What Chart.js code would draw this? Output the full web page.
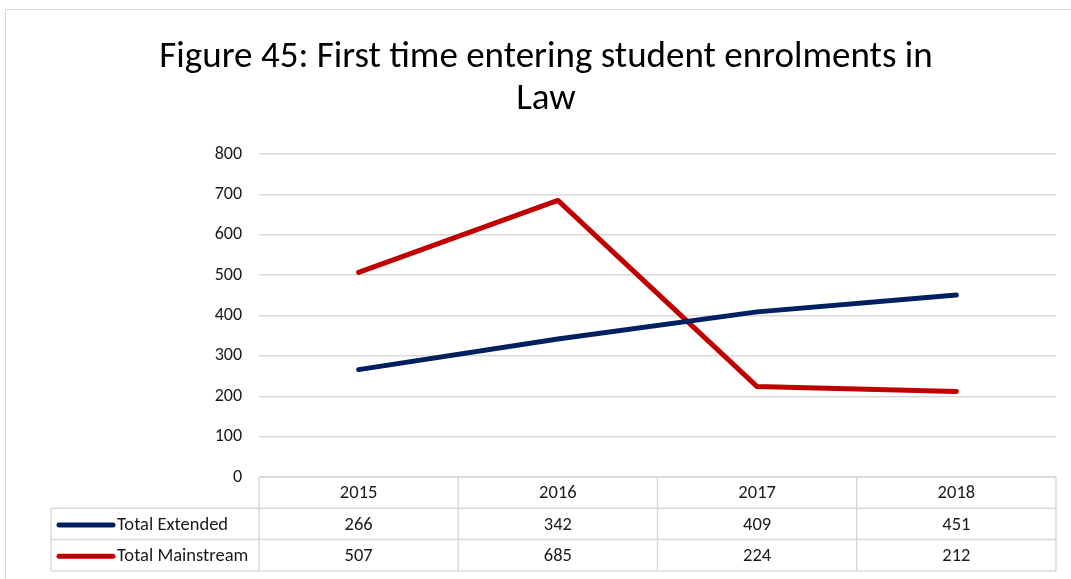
<!DOCTYPE html>
<html>
<head>
<meta charset="utf-8">
<script src="https://cdn.jsdelivr.net/npm/chart.js@4.4.1/dist/chart.umd.min.js"></script>
<style>
  html, body { margin: 0; padding: 0; background: #ffffff; }
  #wrap { position: relative; width: 1071px; height: 579px; }
  canvas { display: block; }
</style>
</head>
<body>
<div id="wrap"><canvas id="chart" width="1071" height="579"></canvas></div>
<script>
// Enrolment figures by year
const years = ['2015', '2016', '2017', '2018'];
const totalExtended = [266, 342, 409, 451];
const totalMainstream = [507, 685, 224, 212];
const seriesNames = ['Total Extended', 'Total Mainstream'];
const titleLines = ['Figure 45: First time entering student enrolments in', 'Law'];

const FONT = "Carlito, Calibri, Lato, 'Liberation Sans', sans-serif";
const GRID = '#d9d9d9';
const TEXT = '#1a1a1a';
const SMALL = 18.5;

// Title, outer frame and the data table beneath the plot
const tablePlugin = {
  id: 'dataTable',
  afterDraw(chart) {
    const ctx = chart.ctx;
    const x = chart.scales.x;
    const area = chart.chartArea;
    ctx.save();

    // outer frame (top and left edges)
    ctx.strokeStyle = '#d9d9d9';
    ctx.lineWidth = 1;
    ctx.beginPath();
    ctx.moveTo(5.5, 579);
    ctx.lineTo(5.5, 9.5);
    ctx.lineTo(1071, 9.5);
    ctx.stroke();

    // title
    ctx.fillStyle = '#000000';
    ctx.font = '37px ' + FONT;
    ctx.textAlign = 'center';
    ctx.textBaseline = 'middle';
    titleLines.forEach((t, i) => ctx.fillText(t, 546, 58 + i * 42));

    // table geometry derived from the category scale
    const n = years.length;
    const colW = (area.right - area.left) / n;
    const edges = [];
    for (let i = 0; i <= n; i++) edges.push(area.left + i * colW);
    const top = area.bottom;
    const rowH = 31.3;
    const legendLeft = 51;
    const rows = [top, top + rowH, top + 2 * rowH, top + 3 * rowH];

    ctx.strokeStyle = GRID;
    ctx.lineWidth = 1.5;
    ctx.beginPath();
    ctx.moveTo(edges[0], rows[0]); ctx.lineTo(edges[n], rows[0]);
    for (let r = 1; r <= 3; r++) {
      ctx.moveTo(legendLeft, rows[r]);
      ctx.lineTo(edges[n], rows[r]);
    }
    edges.forEach(e => { ctx.moveTo(e, rows[0]); ctx.lineTo(e, rows[3]); });
    ctx.moveTo(legendLeft, rows[1]); ctx.lineTo(legendLeft, rows[3]);
    ctx.stroke();

    ctx.font = SMALL + 'px ' + FONT;
    ctx.fillStyle = TEXT;
    ctx.textAlign = 'center';
    years.forEach((y, i) => ctx.fillText(y, x.getPixelForValue(i), (rows[0] + rows[1]) / 2 + 1));

    chart.data.datasets.forEach((ds, r) => {
      const cy = (rows[r + 1] + rows[r + 2]) / 2 + 1;
      // legend key
      ctx.strokeStyle = ds.borderColor;
      ctx.lineWidth = 5;
      ctx.lineCap = 'round';
      ctx.beginPath();
      ctx.moveTo(59, cy); ctx.lineTo(113, cy);
      ctx.stroke();
      ctx.fillStyle = TEXT;
      ctx.textAlign = 'left';
      ctx.fillText(ds.label, 117, cy);
      ctx.textAlign = 'center';
      ds.data.forEach((v, i) => ctx.fillText(String(v), x.getPixelForValue(i), cy));
    });
    ctx.restore();
  }
};

new Chart(document.getElementById('chart'), {
  type: 'line',
  data: {
    labels: years,
    datasets: [
      { label: seriesNames[0], data: totalExtended, borderColor: '#002060', backgroundColor: '#002060' },
      { label: seriesNames[1], data: totalMainstream, borderColor: '#c00000', backgroundColor: '#c00000' }
    ]
  },
  options: {
    responsive: false,
    animation: false,
    layout: { padding: { top: 154, right: 15, bottom: 102, left: 0 } },
    elements: {
      line: { borderWidth: 5, tension: 0, borderCapStyle: 'round', borderJoinStyle: 'round' },
      point: { radius: 0, hoverRadius: 0 }
    },
    plugins: { legend: { display: false }, title: { display: false }, tooltip: { enabled: false } },
    scales: {
      x: { offset: true, display: false },
      y: {
        min: 0, max: 800,
        ticks: { stepSize: 100, padding: 17, color: TEXT, font: { family: FONT, size: 18 } },
        grid: { color: GRID, lineWidth: 1.5, drawTicks: false },
        border: { display: false },
        afterFit(scale) { scale.width = 259; }
      }
    }
  },
  plugins: [tablePlugin]
});
</script>
</body>
</html>
